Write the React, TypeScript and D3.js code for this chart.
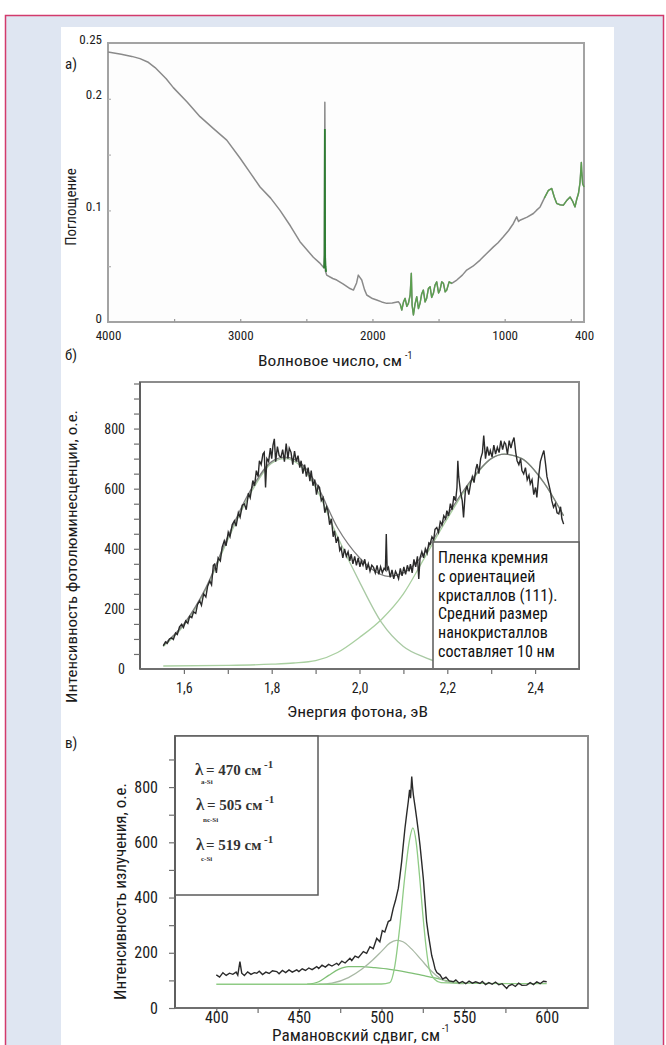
import * as d3 from "d3";
import { useEffect, useRef } from "react";

const SANS =
  "'Liberation Sans Narrow', 'Roboto Condensed', 'DejaVu Sans Condensed', 'Liberation Sans', Arial, sans-serif";
const SERIF = "'Liberation Serif', 'DejaVu Serif', 'Times New Roman', serif";

// а) ИК-спектр поглощения
const irWave = [
  4000, 3900, 3820, 3758, 3700, 3644, 3560, 3506, 3400, 3304, 3200, 3102, 3002,
  2920, 2850, 2770, 2699, 2620, 2548, 2447, 2400, 2371, 2364, 2360, 2356, 2346,
  2300, 2270, 2220, 2170, 2144, 2120, 2107, 2095, 2081, 2060, 2043, 2000, 1968,
  1930, 1892, 1850, 1804, 1790, 1778, 1765, 1753, 1740, 1728, 1715, 1706, 1700,
  1690, 1678, 1665, 1652, 1640, 1628, 1615, 1602, 1590, 1577, 1564, 1552, 1539,
  1527, 1514, 1500, 1489, 1476, 1463, 1450, 1438, 1420, 1400, 1362, 1320, 1287,
  1240, 1186, 1140, 1085, 1050, 1010, 970, 934, 909, 895, 884, 830, 783, 760,
  732, 700, 669, 644, 625, 606, 580, 556, 530, 505, 485, 468, 455, 442, 430,
  420, 417, 410, 400,
];
const irAbs = [
  0.242, 0.24, 0.238, 0.236, 0.233, 0.228, 0.218, 0.21, 0.197, 0.184, 0.173,
  0.163, 0.147, 0.133, 0.121, 0.111, 0.1, 0.086, 0.072, 0.058, 0.053, 0.049,
  0.05, 0.197, 0.046, 0.042, 0.039, 0.0376, 0.034, 0.03, 0.0286, 0.035, 0.042,
  0.04, 0.0376, 0.029, 0.0242, 0.021, 0.0197, 0.018, 0.0167, 0.017, 0.0182,
  0.016, 0.0107, 0.018, 0.0212, 0.014, 0.0167, 0.024, 0.0436, 0.015, 0.0063,
  0.016, 0.0227, 0.012, 0.0167, 0.025, 0.0286, 0.018, 0.0212, 0.03, 0.0316,
  0.022, 0.0257, 0.033, 0.036, 0.026, 0.0286, 0.036, 0.0346, 0.027, 0.0286,
  0.036, 0.0346, 0.0376, 0.042, 0.0465, 0.05, 0.0555, 0.061, 0.0673, 0.071,
  0.0763, 0.082, 0.0883, 0.0942, 0.09, 0.0912, 0.094, 0.0972, 0.1, 0.1031,
  0.111, 0.118, 0.1196, 0.112, 0.1062, 0.105, 0.1047, 0.109, 0.112, 0.108,
  0.1031, 0.11, 0.1151, 0.125, 0.143, 0.135, 0.124, 0.121,
];
const irSpikeWave = [2366, 2362, 2360, 2358, 2355, 2350];
const irSpikeAbs = [0.048, 0.06, 0.173, 0.058, 0.05, 0.045];
const irGreenRanges = [
  [1795, 1395],
  [700, 400],
];
const irXLabels = [4000, 3000, 2000, 1000, 400];
const irYLabels = [0, 0.1, 0.2, 0.25];

// б) фотолюминесценция
const plE = [
  1.553, 1.558, 1.562, 1.567, 1.572, 1.576, 1.581, 1.585, 1.59, 1.595, 1.599,
  1.604, 1.609, 1.613, 1.618, 1.622, 1.627, 1.631, 1.636, 1.64, 1.645, 1.65,
  1.654, 1.659, 1.663, 1.667, 1.67, 1.674, 1.678, 1.683, 1.687, 1.692, 1.696,
  1.701, 1.705, 1.71, 1.715, 1.719, 1.724, 1.728, 1.733, 1.738, 1.742, 1.747,
  1.751, 1.757, 1.761, 1.765, 1.769, 1.772, 1.776, 1.78, 1.783, 1.786, 1.789,
  1.793, 1.797, 1.8, 1.803, 1.806, 1.809, 1.813, 1.817, 1.821, 1.825, 1.829,
  1.833, 1.837, 1.84, 1.844, 1.848, 1.852, 1.856, 1.86, 1.864, 1.867, 1.871,
  1.875, 1.879, 1.883, 1.887, 1.89, 1.894, 1.898, 1.902, 1.906, 1.909, 1.913,
  1.917, 1.921, 1.925, 1.928, 1.932, 1.936, 1.94, 1.943, 1.947, 1.951, 1.955,
  1.958, 1.962, 1.966, 1.97, 1.974, 1.978, 1.981, 1.985, 1.989, 1.993, 1.997,
  2.001, 2.004, 2.008, 2.012, 2.016, 2.02, 2.024, 2.028, 2.032, 2.036, 2.04,
  2.044, 2.048, 2.052, 2.056, 2.059, 2.061, 2.063, 2.066, 2.07, 2.074, 2.078,
  2.082, 2.085, 2.089, 2.093, 2.097, 2.101, 2.105, 2.109, 2.113, 2.116, 2.12,
  2.124, 2.128, 2.132, 2.135, 2.138, 2.142, 2.146, 2.15, 2.154, 2.158, 2.161,
  2.165, 2.169, 2.172, 2.176, 2.18, 2.184, 2.188, 2.192, 2.196, 2.199, 2.203,
  2.207, 2.211, 2.215, 2.219, 2.222, 2.224, 2.226, 2.23, 2.234, 2.237, 2.241,
  2.245, 2.249, 2.253, 2.257, 2.261, 2.265, 2.268, 2.272, 2.276, 2.28, 2.283,
  2.287, 2.291, 2.295, 2.298, 2.302, 2.306, 2.31, 2.314, 2.318, 2.322, 2.326,
  2.33, 2.333, 2.337, 2.341, 2.345, 2.348, 2.352, 2.356, 2.359, 2.363, 2.367,
  2.37, 2.374, 2.378, 2.382, 2.386, 2.389, 2.393, 2.397, 2.401, 2.404, 2.408,
  2.412, 2.416, 2.42, 2.424, 2.427, 2.431, 2.435, 2.438, 2.442, 2.446, 2.45,
  2.454, 2.458, 2.461, 2.465,
];
const plI = [
  77, 90, 85, 100, 104, 98, 120, 115, 140, 149, 138, 160, 152, 175, 171, 190,
  185, 215, 227, 212, 250, 240, 275, 293, 280, 345, 349, 320, 370, 360, 405,
  427, 410, 455, 440, 480, 493, 475, 520, 505, 545, 549, 530, 585, 570, 627,
  610, 660, 640, 693, 680, 715, 721, 604, 700, 690, 735, 700, 745, 766, 690,
  740, 710, 704, 730, 690, 750, 700, 735, 721, 680, 725, 690, 710, 670, 693,
  650, 680, 640, 670, 625, 660, 610, 630, 580, 610, 604, 560, 570, 520, 540,
  527, 480, 500, 440, 460, 420, 440, 395, 404, 370, 400, 375, 390, 360, 382,
  350, 375, 345, 370, 340, 360, 345, 365, 330, 350, 325, 345, 338, 320, 345,
  315, 340, 320, 335, 330, 449, 330, 338, 305, 330, 300, 325, 316, 300, 335,
  310, 340, 315, 345, 325, 349, 320, 365, 340, 375, 300, 371, 390, 370, 400,
  385, 420, 416, 440, 430, 465, 471, 455, 490, 480, 510, 500, 527, 510, 550,
  530, 575, 560, 604, 693, 640, 590, 560, 504, 590, 610, 580, 616, 640, 620,
  665, 682, 650, 700, 720, 777, 700, 740, 710, 727, 705, 745, 715, 738, 720,
  760, 730, 755, 749, 715, 760, 735, 754, 770, 720, 693, 680, 700, 660, 649,
  670, 630, 645, 616, 630, 580, 604, 571, 640, 690, 710, 727, 680, 640, 616,
  590, 560, 538, 550, 520, 516, 540, 500, 482,
];
const plFitE = [
  1.553, 1.6, 1.65, 1.7, 1.75, 1.8, 1.83, 1.87, 1.9, 1.95, 2.0, 2.03, 2.065,
  2.1, 2.15, 2.2, 2.25, 2.3, 2.33, 2.37, 2.42, 2.465,
];
const plFitSum = [
  80, 150, 270, 440, 590, 690, 705, 680, 620, 470, 370, 330, 308, 320, 390,
  510, 620, 700, 715, 700, 620, 510,
];
const plG1E = [
  1.553, 1.6, 1.65, 1.7, 1.75, 1.8, 1.83, 1.87, 1.9, 1.95, 2.0, 2.05, 2.1, 2.15,
  2.18,
];
const plG1 = [75, 145, 265, 430, 580, 685, 700, 670, 605, 440, 290, 155, 75, 38, 22];
const plG2E = [
  1.553, 1.7, 1.8, 1.85, 1.9, 1.95, 2.0, 2.05, 2.1, 2.15, 2.2, 2.25, 2.3, 2.33,
  2.37, 2.42, 2.465,
];
const plG2 = [10, 12, 16, 20, 28, 55, 105, 165, 250, 375, 500, 615, 700, 715, 700, 620, 510];
const plXLabels = [1.6, 1.8, 2.0, 2.2, 2.4];
const plYLabels = [0, 200, 400, 600, 800];
const plNote = [
  "Пленка кремния",
  "с ориентацией",
  "кристаллов (111).",
  "Средний размер",
  "нанокристаллов",
  "составляет 10 нм",
];

// в) комбинационное рассеяние
const raWave = [
  400, 402, 404, 406, 408, 410, 412, 413, 414.3, 415.4, 417, 419, 421, 423,
  424.5, 426, 428, 430, 432, 434, 436.6, 438, 440, 442, 444, 446, 448.7, 450,
  452, 454, 456, 458, 460.8, 462, 464, 466, 468, 470, 472.9, 474, 476, 478,
  480.9, 482, 484, 486, 489, 491, 493, 495, 497.1, 499, 500.5, 502, 504.1,
  505.5, 507.1, 508.5, 510.2, 511, 512.2, 513, 514.2, 515.2, 516.2, 517, 517.6,
  518.3, 518.8, 519.3, 520.3, 521.3, 522.3, 523.3, 524.3, 525.3, 526.3, 527.3,
  528.4, 529.4, 530.4, 531.4, 532.5, 533.5, 535.4, 537, 539, 541, 543.5, 545,
  547, 549, 551, 553, 555, 557, 559.6, 561, 563, 565, 567, 569, 571, 573,
  575.8, 577, 579, 581, 583, 585, 587.9, 590, 592, 594, 596, 598, 600,
];
const raInt = [
  120, 112, 128, 118, 126, 122, 130, 119, 168, 126, 118, 131, 122, 128, 126,
  133, 121, 130, 125, 135, 132, 124, 136, 128, 138, 130, 138, 132, 142, 136,
  145, 139, 150, 143, 155, 148, 158, 152, 162, 156, 170, 163, 180, 172, 188,
  182, 204, 198, 222, 215, 252, 240, 280, 275, 313, 318, 361, 390, 434, 470,
  530, 580, 651, 700, 747, 790, 760, 838, 800, 771, 730, 687, 640, 590, 530,
  470, 390, 313, 265, 228, 190, 168, 140, 128, 120, 105, 112, 98, 95, 102, 90,
  96, 88, 97, 90, 95, 89, 96, 85, 92, 86, 94, 84, 88, 71, 80, 86, 78, 90, 82,
  83, 92, 85, 95, 88, 97, 95,
];
const raCWave = [
  400, 470, 500, 505, 508, 511, 514, 517, 519, 521, 523, 525, 527, 529, 532,
  536, 545, 600,
];
const raC = [86, 86, 87, 92, 150, 290, 470, 610, 652, 600, 480, 340, 220, 140, 105, 92, 90, 88];
const raNcWave = [
  462, 470, 480, 488, 494, 500, 505, 509, 513, 518, 524, 530, 536, 542, 550,
];
const raNc = [86, 90, 110, 140, 170, 205, 235, 245, 240, 215, 175, 135, 105, 92, 88];
const raAWave = [
  455, 462, 468, 474, 480, 488, 496, 505, 515, 525, 533, 540, 550,
];
const raA = [86, 95, 118, 140, 150, 150, 146, 140, 130, 118, 108, 98, 90];
const raXLabels = [400, 450, 500, 550, 600];
const raYLabels = [0, 200, 400, 600, 800];

const zip = (xs: number[], ys: number[]) => xs.map((x, i) => [x, ys[i]] as [number, number]);

// scales
const irX = d3.scaleLinear().domain([4000, 400]).range([108, 584]);
const irY = d3.scaleLinear().domain([0, 0.25]).range([322, 43]);
const plX = d3.scaleLinear().domain([1.5, 2.5]).range([140, 579]);
const plY = d3.scaleLinear().domain([0, 955]).range([669, 382]);
const raX = d3.scaleLinear().domain([375, 625]).range([175, 588]);
const raY = d3.scaleLinear().domain([0, 985]).range([1008, 736]);

const lineOf = (x: d3.ScaleLinear<number, number>, y: d3.ScaleLinear<number, number>, curve = d3.curveLinear) =>
  d3
    .line<[number, number]>()
    .x((d) => x(d[0]))
    .y((d) => y(d[1]))
    .curve(curve);

const styleAxis = (g: any, size: number, color = "#6f6f6f") => {
  g.select(".domain").remove();
  g.selectAll("line").attr("stroke", color).attr("stroke-width", 1.2);
  g.selectAll("text")
    .attr("font-family", SANS)
    .attr("font-size", size)
    .attr("fill", "#1b1b1b");
};

const App = () => {
  const irXTicks = useRef<SVGGElement>(null);
  const irXAxis = useRef<SVGGElement>(null);
  const irYAxis = useRef<SVGGElement>(null);
  const irYTicks = useRef<SVGGElement>(null);
  const plXAxis = useRef<SVGGElement>(null);
  const plXLab = useRef<SVGGElement>(null);
  const plYAxis = useRef<SVGGElement>(null);
  const plYLab = useRef<SVGGElement>(null);
  const raXAxis = useRef<SVGGElement>(null);
  const raXLab = useRef<SVGGElement>(null);
  const raYAxis = useRef<SVGGElement>(null);
  const raYLab = useRef<SVGGElement>(null);

  useEffect(() => {
    // а
    d3.select(irXTicks.current)
      .call(d3.axisBottom(irX).tickValues(d3.range(3500, 400, -500)).tickSize(-3).tickFormat(() => ""))
      .call((g: any) => styleAxis(g, 13, "#9a9a9a"));
    d3.select(irXAxis.current)
      .call(
        d3
          .axisBottom(irX)
          .tickValues(irXLabels)
          .tickSize(0)
          .tickPadding(9)
          .tickFormat((d: any) => String(d))
      )
      .call((g: any) => styleAxis(g, 13));
    d3.select(irYAxis.current)
      .call(
        d3
          .axisLeft(irY)
          .tickValues(irYLabels)
          .tickSize(0)
          .tickPadding(6)
          .tickFormat((d: any) => String(d))
      )
      .call((g: any) => styleAxis(g, 13));
    d3.select(irYTicks.current)
      .call(d3.axisLeft(irY).tickValues([0.05, 0.1, 0.15, 0.2]).tickSize(-3).tickFormat(() => ""))
      .call((g: any) => styleAxis(g, 13, "#b0b0b0"));

    // б
    d3.select(plXAxis.current)
      .call(d3.axisBottom(plX).tickValues(d3.range(1.6, 2.45, 0.1)).tickSize(5).tickFormat(() => ""))
      .call((g: any) => styleAxis(g, 13));
    d3.select(plXLab.current)
      .call(
        d3
          .axisBottom(plX)
          .tickValues(plXLabels)
          .tickSize(0)
          .tickPadding(14)
          .tickFormat((d: any) => d3.format(".1f")(d).replace(".", ","))
      )
      .call((g: any) => styleAxis(g, 14));
    d3.select(plYAxis.current)
      .call(d3.axisLeft(plY).tickValues(d3.range(50, 951, 50)).tickSize(6).tickFormat(() => ""))
      .call((g: any) => styleAxis(g, 14));
    d3.select(plYLab.current)
      .call(d3.axisLeft(plY).tickValues(plYLabels).tickSize(0).tickPadding(15))
      .call((g: any) => styleAxis(g, 14));

    // в
    d3.select(raXAxis.current)
      .call(d3.axisBottom(raX).tickValues(d3.range(400, 601, 25)).tickSize(5).tickFormat(() => ""))
      .call((g: any) => styleAxis(g, 15));
    d3.select(raXLab.current)
      .call(d3.axisBottom(raX).tickValues(raXLabels).tickSize(0).tickPadding(4))
      .call((g: any) => styleAxis(g, 16));
    d3.select(raYAxis.current)
      .call(d3.axisLeft(raY).tickValues(d3.range(0, 901, 100)).tickSize(6).tickFormat(() => ""))
      .call((g: any) => styleAxis(g, 15));
    d3.select(raYLab.current)
      .call(d3.axisLeft(raY).tickValues(raYLabels).tickSize(0).tickPadding(17))
      .call((g: any) => styleAxis(g, 16));
  }, []);

  const irLine = lineOf(irX, irY);
  const irPts = zip(irWave, irAbs);
  const plLine = lineOf(plX, plY);
  const plSmooth = lineOf(plX, plY, d3.curveMonotoneX);
  const raLine = lineOf(raX, raY);
  const raSmooth = lineOf(raX, raY, d3.curveMonotoneX);

  const sup = (x: number, y: number, size: number) => (
    <text x={x} y={y} fontSize={size} fontFamily={SANS} fill="#1b1b1b">
      -1
    </text>
  );

  return (
    <div style={{ position: "absolute", left: 0, top: 0 }}>
      <svg width={666} height={1045} style={{ display: "block" }}>
        <rect x={0} y={0} width={666} height={1045} fill="#ffffff" />
        <rect x={5.5} y={15.5} width={658} height={1040} fill="#dfe6f2" stroke="#d23a6c" strokeWidth={1.5} />
        <rect x={61} y={27} width={553} height={1018} fill="#ffffff" />

        {/* а) */}
        <text x={65} y={69} fontFamily={SANS} fontSize={15} fill="#1b1b1b">а)</text>
        <rect x={108} y={43} width={476} height={279} fill="#fdfdfd" stroke="#a3a3a3" strokeWidth={2} />
        <g ref={irXTicks} transform="translate(0,322)" />
        <g ref={irXAxis} transform="translate(0,322)" />
        <g ref={irYAxis} transform="translate(108,-4)" />
        <g ref={irYTicks} transform="translate(108,0)" />
        <path d={irLine(irPts) ?? ""} fill="none" stroke="#8a8a8a" strokeWidth={1.5} strokeLinejoin="round" />
        {irGreenRanges.map(([a, b], i) => (
          <path
            key={i}
            d={irLine(irPts.filter((p) => p[0] <= a && p[0] >= b)) ?? ""}
            fill="none"
            stroke="#5aa04e"
            strokeWidth={1.3}
            strokeLinejoin="round"
          />
        ))}
        <path d={irLine(zip(irSpikeWave, irSpikeAbs)) ?? ""} fill="none" stroke="#2e7d32" strokeWidth={1.8} />
        <text
          transform="translate(76,207) rotate(-90)"
          textAnchor="middle"
          fontFamily={SANS}
          fontSize={15}
          fill="#1b1b1b"
        >
          Поглощение
        </text>
        <text x={258} y={366} fontFamily={SANS} fontSize={15} fill="#1b1b1b" textLength={144} lengthAdjust="spacingAndGlyphs">
          Волновое число, см
        </text>
        {sup(405, 359, 10)}

        {/* б) */}
        <text x={65} y={360} fontFamily={SANS} fontSize={15} fill="#1b1b1b">б)</text>
        <rect x={140} y={382} width={439} height={287} fill="#ffffff" stroke="#8c8c8c" strokeWidth={2} />
        <path d={plSmooth(zip(plG1E, plG1)) ?? ""} fill="none" stroke="#a9c9a4" strokeWidth={1.3} />
        <path d={plSmooth(zip(plG2E, plG2)) ?? ""} fill="none" stroke="#a9cfa0" strokeWidth={1.3} />
        <path d={plSmooth(zip(plFitE, plFitSum)) ?? ""} fill="none" stroke="#7d7d7d" strokeWidth={1.3} />
        <path d={plLine(zip(plE, plI)) ?? ""} fill="none" stroke="#2a2a2a" strokeWidth={1.4} />
        <rect x={433} y={542} width={146} height={127} fill="#ffffff" stroke="#5a5a5a" strokeWidth={1.5} />
        {plNote.map((t, i) => (
          <text key={t} x={438} y={563 + i * 18.8} fontFamily={SANS} fontSize={16} fill="#111">
            {t}
          </text>
        ))}
        <line x1={140} x2={140} y1={382} y2={669} stroke="#5f5f5f" strokeWidth={2} />
        <line x1={140} x2={579} y1={669} y2={669} stroke="#6f6f6f" strokeWidth={2} />
        <g ref={plXAxis} transform="translate(0,669)" />
        <g ref={plXLab} transform="translate(0,669)" />
        <g ref={plYAxis} transform="translate(140,0)" />
        <g ref={plYLab} transform="translate(140,0)" />
        <text
          transform="translate(77,556.5) rotate(-90)"
          textAnchor="middle"
          fontFamily={SANS}
          fontSize={15}
          fill="#1b1b1b"
          textLength={293}
          lengthAdjust="spacingAndGlyphs"
        >
          Интенсивность фотолюминесценции, о.е.
        </text>
        <text x={287} y={717} fontFamily={SANS} fontSize={15} fill="#1b1b1b" textLength={141} lengthAdjust="spacingAndGlyphs">
          Энергия фотона, эВ
        </text>

        {/* в) */}
        <text x={65} y={748} fontFamily={SANS} fontSize={15} fill="#1b1b1b">в)</text>
        <rect x={175} y={736} width={413} height={272} fill="#ffffff" stroke="#8c8c8c" strokeWidth={2} />
        <path d={raSmooth(zip(raAWave, raA)) ?? ""} fill="none" stroke="#7fbf75" strokeWidth={1.3} />
        <path d={raSmooth(zip(raNcWave, raNc)) ?? ""} fill="none" stroke="#a8b8a4" strokeWidth={1.3} />
        <path d={raSmooth(zip(raCWave, raC)) ?? ""} fill="none" stroke="#8fcb85" strokeWidth={1.3} />
        <path d={raLine(zip(raWave, raInt)) ?? ""} fill="none" stroke="#2a2a2a" strokeWidth={1.4} />
        <rect x={175} y={736} width={143} height={159} fill="#ffffff" stroke="#5a5a5a" strokeWidth={1.5} />
        <g fontFamily={SERIF} fontWeight="bold" fill="#333">
          <text x={195} y={775} fontSize={17}>λ</text>
          <text x={201} y={784} fontSize={7}>a-Si</text>
          <text x={206} y={775} fontSize={15}>= 470 см</text>
          <text x={264} y={768} fontSize={11}>-1</text>
          <text x={196} y={810} fontSize={17}>λ</text>
          <text x={207} y={810} fontSize={15}>= 505 см</text>
          <text x={203} y={822} fontSize={7}>nc-Si</text>
          <text x={265} y={803} fontSize={11}>-1</text>
          <text x={196} y={850} fontSize={17}>λ</text>
          <text x={206} y={850} fontSize={15}>= 519 см</text>
          <text x={201} y={861} fontSize={7}>c-Si</text>
          <text x={264} y={843} fontSize={11}>-1</text>
        </g>
        <line x1={175} x2={175} y1={736} y2={1008} stroke="#5f5f5f" strokeWidth={2} />
        <line x1={175} x2={588} y1={1008} y2={1008} stroke="#6f6f6f" strokeWidth={2} />
        <g ref={raXAxis} transform="translate(0,1008)" />
        <g ref={raXLab} transform="translate(0,1008)" />
        <g ref={raYAxis} transform="translate(175,0)" />
        <g ref={raYLab} transform="translate(175,0)" />
        <text
          transform="translate(126,891.5) rotate(-90)"
          textAnchor="middle"
          fontFamily={SANS}
          fontSize={16}
          fill="#1b1b1b"
          textLength={217}
          lengthAdjust="spacingAndGlyphs"
        >
          Интенсивность излучения, о.е.
        </text>
        <text x={272} y={1041} fontFamily={SANS} fontSize={16} fill="#1b1b1b" textLength={168} lengthAdjust="spacingAndGlyphs">
          Рамановский сдвиг, см
        </text>
        {sup(442, 1032, 10)}
      </svg>
    </div>
  );
};

export default App;
